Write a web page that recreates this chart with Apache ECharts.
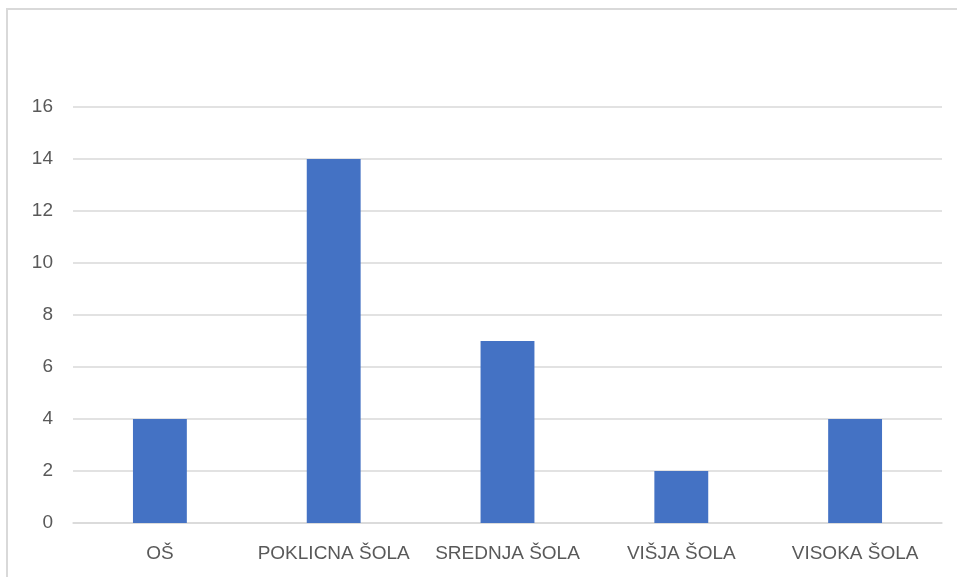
<!DOCTYPE html>
<html><head><meta charset="utf-8">
<script src="https://cdn.jsdelivr.net/npm/echarts@6/dist/echarts.min.js"></script>
<style>html,body{margin:0;padding:0;background:#fff}#c{width:957px;height:577px}</style>
</head><body><div id="c"></div>
<script>
const categories = ['OŠ', 'POKLICNA ŠOLA', 'SREDNJA ŠOLA', 'VIŠJA ŠOLA', 'VISOKA ŠOLA'];
const values = [4, 14, 7, 2, 4];
const yTicks = {min: 0, max: 16, interval: 2};

const chart = echarts.init(document.getElementById('c'), null, {renderer: 'canvas'});
chart.setOption({
  animation: false,
  backgroundColor: '#fff',
  graphic: [{
    type: 'rect', left: 6, top: 8, z: -1,
    shape: {x: 0, y: 0, width: 960, height: 580},
    style: {fill: '#fff', stroke: '#d9d9d9', lineWidth: 2}
  }],
  grid: {left: 73, right: 15, top: 107, bottom: 54, containLabel: false},
  xAxis: {
    type: 'category', data: categories,
    axisLine: {lineStyle: {color: '#d9d9d9', width: 1.5}},
    axisTick: {show: false},
    axisLabel: {color: '#595959', fontSize: 19, fontFamily: 'Liberation Sans, Arial, sans-serif', margin: 21, interval: 0, hideOverlap: false}
  },
  yAxis: {
    type: 'value', min: yTicks.min, max: yTicks.max, interval: yTicks.interval,
    axisLine: {show: false}, axisTick: {show: false},
    splitLine: {lineStyle: {color: '#d9d9d9', width: 1.5}},
    axisLabel: {color: '#595959', fontSize: 19, fontFamily: 'Liberation Sans, Arial, sans-serif', margin: 20}
  },
  series: [{
    type: 'bar', data: values, barWidth: '31%',
    itemStyle: {color: '#4472c4'}
  }]
});
</script></body></html>
